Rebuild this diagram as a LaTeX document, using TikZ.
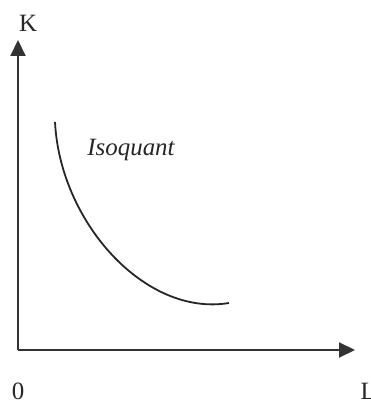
\documentclass[tikz,border=0pt]{standalone}
\usepackage{fontspec}
\setmainfont{Liberation Serif}
\usetikzlibrary{arrows.meta}
\begin{document}
\begin{tikzpicture}[x=1bp, y=1bp, font=\fontsize{25}{30}\selectfont]
        \useasboundingbox (0,0) rectangle (371,402);
        % Define axes
        \coordinate (origin) at (18,52);
        \coordinate (ktop) at (18,362);
        \coordinate (lend) at (355,52);
        \node[text=black!85] (klabel) at (28,379) {K};
        \node[text=black!85] (zero) at (18,11) {0};
        \node[text=black!85, anchor=west] (llabel) at (357,11) {L};
        
        % Draw axes
        \draw[line width=2bp, black!80, -{Triangle[length=16bp, width=15bp]}] (origin) -- (ktop);
        \draw[line width=2bp, black!80, -{Triangle[length=16bp, width=15bp]}] (origin) -- (lend);
        
        % Draw isoquant
        \coordinate (isostart) at (55,280);
        \coordinate (isoend) at (229,99);
        \draw[line width=1.8bp, black!85] (isostart) .. controls (60,180) and (145,85) .. (isoend);
        \node[text=black!85, font=\fontsize{25}{30}\selectfont\itshape] (isoquant) at (131,252) {Isoquant};
    \end{tikzpicture}
\end{document}
